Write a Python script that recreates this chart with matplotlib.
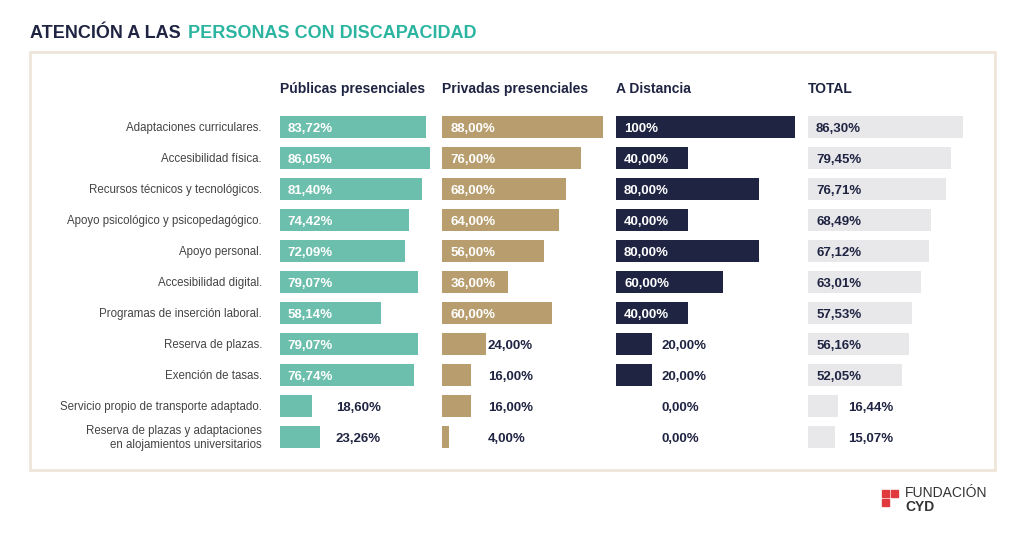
import matplotlib
matplotlib.use("Agg")
import matplotlib.pyplot as plt
from matplotlib.patches import Rectangle

categories = ["Adaptaciones curriculares.", "Accesibilidad física.", "Recursos técnicos y tecnológicos.",
              "Apoyo psicológico y psicopedagógico.", "Apoyo personal.", "Accesibilidad digital.",
              "Programas de inserción laboral.", "Reserva de plazas.", "Exención de tasas.",
              "Servicio propio de transporte adaptado.",
              "Reserva de plazas y adaptaciones\nen alojamientos universitarios"]
publicas = [83.72, 86.05, 81.40, 74.42, 72.09, 79.07, 58.14, 79.07, 76.74, 18.60, 23.26]
privadas = [88.00, 76.00, 68.00, 64.00, 56.00, 36.00, 60.00, 24.00, 16.00, 16.00, 4.00]
distancia = [100, 40, 80, 40, 80, 60, 40, 20, 20, 0, 0]
total = [86.30, 79.45, 76.71, 68.49, 67.12, 63.01, 57.53, 56.16, 52.05, 16.44, 15.07]
headers = ["Públicas presenciales", "Privadas presenciales", "A Distancia", "TOTAL"]

W, H = 1024, 543
fig = plt.figure(figsize=(W/100, H/100), dpi=100)
fig.patch.set_facecolor("white")
plt.rcParams['font.family'] = ['Liberation Sans', 'DejaVu Sans']

bg = fig.add_axes([0, 0, 1, 1]); bg.set_xlim(0, W); bg.set_ylim(H, 0); bg.axis("off")
bg.add_patch(Rectangle((30, 52), 965, 418, fill=False, ec="#efe6da", lw=2))
bg.text(30, 33, "ATENCIÓN A LAS ", fontsize=13, fontweight="bold", color="#1f2442", va="center")
bg.text(188, 33, "PERSONAS CON DISCAPACIDAD", fontsize=13, fontweight="bold", color="#2bb5a0", va="center")
for dx, dy in [(0, 0), (9, 0), (0, 9)]:
    bg.add_patch(Rectangle((882+dx, 490+dy), 7, 7, color="#e03a3e"))
bg.text(905, 493, "FUNDACIÓN", fontsize=10, color="#333333", va="center")
bg.text(905, 507, "CYD", fontsize=10, fontweight="bold", color="#333333", va="center")

series = [publicas, privadas, distancia, total]
colors = ["#6dbfad", "#b89e6e", "#1f2442", "#e8e8ea"]
incol = ["white", "white", "white", "#1f2442"]
xstart = [280, 442, 616, 808]
scale = [174, 183, 179, 180]
outoff = [56, 46, 46, 40]
thresh = [50, 30, 30, 30]
top, bot = 111.5, 452.5
for k in range(4):
    ax = fig.add_axes([xstart[k]/W, (H-bot)/H, scale[k]*1.2/W, (bot-top)/H])
    ax.set_xlim(0, 120); ax.set_ylim(10.5, -0.5); ax.axis("off")
    ax.barh(range(len(series[k])), series[k], height=0.72, color=colors[k])
    for i, v in enumerate(series[k]):
        s = "100%" if v == 100 else f"{v:.2f}%".replace(".", ",")
        x = 4.5 if v >= thresh[k] else outoff[k]/scale[k]*100
        c = incol[k] if v >= thresh[k] else "#1f2442"
        ax.text(x, i + 0.05, s, color=c, fontsize=9.5, fontweight="bold", va="center")
    bg.text(xstart[k], 89, headers[k], fontsize=10, fontweight="bold", color="#1f2442", va="center")

for i, c in enumerate(categories):
    y = 128 + i*31
    bg.text(262, y, c, fontsize=8.3, color="#444444", ha="right", va="center", linespacing=1.3)

fig.savefig("out.png", dpi=100)
